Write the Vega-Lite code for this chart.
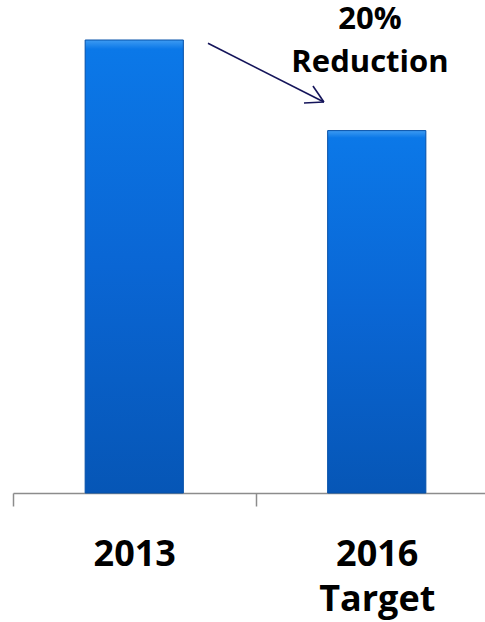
{
  "$schema": "https://vega.github.io/schema/vega-lite/v6.json",
  "autosize": {"type": "none"},
  "width": 485,
  "height": 453,
  "padding": {"left": 13, "top": 40, "right": 0, "bottom": 129},
  "background": "white",
  "config": {"view": {"stroke": null}, "font": "Open Sans"},
  "datasets": {
    "bars": [
      {"year": "2013", "value": 100},
      {"year": "2016 Target", "value": 80}
    ],
    "arrow": [
      {"x": 0.804, "y": 99.3, "x2": 1.282, "y2": 86.3},
      {"x": 1.282, "y": 86.3, "x2": 1.237, "y2": 89.85},
      {"x": 1.282, "y": 86.3, "x2": 1.2, "y2": 86.1}
    ],
    "notes": [
      {"x": 1.472, "y": 104.4, "label": "20%"},
      {"x": 1.472, "y": 94.9, "label": "Reduction"}
    ]
  },
  "layer": [
    {
      "data": {"name": "bars"},
      "mark": {
        "type": "bar",
        "width": {"band": 0.405},
        "stroke": "#0550a8",
        "strokeWidth": 1,
        "color": {
          "gradient": "linear",
          "x1": 0, "y1": 0, "x2": 0, "y2": 1,
          "stops": [
            {"offset": 0, "color": "#3d9bf2"},
            {"offset": 0.02, "color": "#0b78e8"},
            {"offset": 0.5, "color": "#0a66d4"},
            {"offset": 1, "color": "#0656b6"}
          ]
        }
      },
      "encoding": {
        "x": {
          "field": "year",
          "type": "nominal",
          "sort": null,
          "scale": {"paddingInner": 0, "paddingOuter": 0},
          "axis": {
            "title": null,
            "labelAngle": 0,
            "labelExpr": "split(datum.label, ' ')",
            "labelFont": "Open Sans",
            "labelFontWeight": "bold",
            "labelFontSize": 36,
            "labelLineHeight": 45,
            "labelColor": "#000000",
            "labelPadding": 31,
            "tickBand": "extent",
            "tickSize": 13,
            "tickColor": "#8c8c8c",
            "tickWidth": 1.5,
            "domainColor": "#8c8c8c",
            "domainWidth": 1.5,
            "grid": false
          }
        },
        "y": {
          "field": "value",
          "type": "quantitative",
          "scale": {"domain": [0, 100], "nice": false},
          "axis": null
        }
      }
    },
    {
      "data": {"name": "arrow"},
      "mark": {"type": "rule", "color": "#14145a", "strokeWidth": 1.6, "clip": false},
      "encoding": {
        "x": {"field": "x", "type": "quantitative", "scale": {"domain": [0, 2], "nice": false, "zero": false}, "axis": null},
        "x2": {"field": "x2"},
        "y": {"field": "y", "type": "quantitative"},
        "y2": {"field": "y2"}
      }
    },
    {
      "data": {"name": "notes"},
      "mark": {"type": "text", "font": "Open Sans", "fontWeight": "bold", "fontSize": 31, "color": "#000000", "baseline": "middle", "align": "center", "clip": false},
      "encoding": {
        "x": {"field": "x", "type": "quantitative", "scale": {"domain": [0, 2], "nice": false, "zero": false}, "axis": null},
        "y": {"field": "y", "type": "quantitative"},
        "text": {"field": "label"}
      }
    }
  ],
  "resolve": {"scale": {"x": "independent"}, "axis": {"x": "independent"}}
}
